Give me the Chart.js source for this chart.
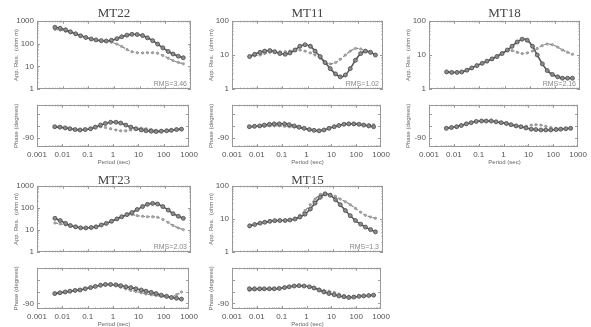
<!DOCTYPE html>
<html>
<head>
<meta charset="utf-8">
<script src="https://cdn.jsdelivr.net/npm/chart.js@4.4.0/dist/chart.umd.min.js"></script>
<style>
body { margin: 0; background: #fff; }
#wrap { position: relative; width: 591px; height: 327px; overflow: hidden; background: #fff; }
canvas { position: absolute; }
.ttl { position: absolute; font-family: "Liberation Serif", "DejaVu Serif", serif; font-size: 13px; color: #444; transform: translateX(-50%); line-height: 1; white-space: nowrap; }
.xl { position: absolute; font-family: "Liberation Sans", sans-serif; font-size: 6px; color: #666; transform: translateX(-50%); line-height: 1; white-space: nowrap; }
</style>
</head>
<body>
<div id="wrap"></div>
<script>
// periods (sec)
var periods = [0.005, 0.008, 0.013, 0.02, 0.032, 0.05, 0.08, 0.13, 0.2, 0.32, 0.5, 0.8, 1.3, 2, 3.2, 5, 8, 13, 20, 32, 50, 80, 130, 200, 320, 500];
var xTicks = [0.001, 0.01, 0.1, 1, 10, 100, 1000];
var phaseTicks = [-90, -60, -30];

var mt22ResA = [520, 470, 400, 330, 270, 220, 185, 160, 145, 135, 130, 140, 165, 200, 235, 255, 250, 225, 180, 135, 95, 65, 45, 35, 28, 24];
var mt22ResB = [420, 390, 350, 300, 255, 215, 180, 158, 145, 135, 128, 115, 95, 75, 55, 44, 40, 39, 40, 40, 38, 30, 23, 18, 15, 13];
var mt22PhA = [-62, -63, -65, -67, -69, -70, -69, -67, -63, -58, -54, -51, -51, -53, -58, -63, -67, -70, -72, -73, -74, -73, -72, -71, -69, -68];
var mt22PhB = [-63, -64, -65, -67, -69, -70, -69, -67, -64, -62, -64, -67, -70, -72, -72, -70, -67, -66, -67, -69, -71, -72, -71, -70, -69, -68];

var mt11ResA = [9, 10.5, 12, 13, 13.5, 12.5, 11, 10.5, 11.5, 14, 18, 20, 18, 13, 9, 6, 4, 2.8, 2.3, 2.6, 4, 7, 11, 13, 12, 10];
var mt11ResB = [9, 9.5, 10, 11, 12, 12.5, 12.5, 12.5, 13, 14, 14, 13, 11.5, 10, 8, 6, 5.5, 6, 7.5, 10, 13, 15.5, 15, 13, 11.5, 10];
var mt11PhA = [-62, -61, -60, -58, -56, -55, -55, -55, -57, -60, -63, -66, -69, -71, -72, -70, -66, -62, -59, -56, -55, -55, -56, -58, -60, -62];
var mt11PhB = [-62, -62, -61, -61, -60, -60, -60, -61, -62, -63, -65, -67, -69, -71, -72, -70, -65, -61, -58, -57, -57, -57, -57, -57, -57, -57];

var mt18ResA = [3.2, 3.1, 3.1, 3.2, 3.6, 4.2, 4.9, 5.7, 6.6, 7.7, 9, 11, 14, 18, 24, 29, 27, 18, 10, 5.5, 3.5, 2.7, 2.3, 2.1, 2.1, 2.1];
var mt18ResB = [3.2, 3.1, 3.1, 3.2, 3.6, 4.2, 4.9, 5.7, 6.6, 7.7, 9.3, 11.5, 13.5, 13.5, 12, 11, 11.5, 13, 15.5, 19, 21, 20, 17, 14, 12, 10.5];
var mt18PhA = [-66, -64, -62, -59, -55, -52, -49, -48, -48, -48, -50, -52, -54, -57, -60, -62, -65, -68, -69, -70, -70, -70, -69, -68, -67, -66];
var mt18PhB = [-66, -64, -62, -59, -55, -52, -49, -48, -48, -48, -50, -52, -54, -57, -60, -62, -61, -58, -57, -58, -61, -64, -66, -67, -67, -66];

var mt23ResA = [34, 27, 20, 16, 14, 12.6, 12.5, 13, 14, 17, 20, 25, 32, 40, 50, 62, 85, 115, 145, 160, 150, 115, 80, 55, 42, 34];
var mt23ResB = [21, 19, 17, 15, 13.5, 12.6, 12.5, 13, 14, 17, 20, 25, 32, 40, 48, 50, 45, 42, 40, 40, 38, 30, 22, 16, 12.5, 10.5];
var mt23PhA = [-65, -63, -61, -59, -57, -56, -53, -50, -47, -44, -42, -42, -43, -45, -48, -50, -53, -56, -59, -62, -65, -69, -72, -75, -77, -79];
var mt23PhB = [-66, -64, -62, -60, -58, -56, -53, -50, -47, -44, -42, -43, -45, -49, -53, -57, -60, -63, -66, -68, -70, -72, -74, -74, -68, -61];

var mt15ResA = [6.2, 6.8, 7.5, 8, 8.5, 8.9, 9, 9, 9.3, 10, 11.5, 14, 20, 30, 45, 57, 52, 38, 27, 18, 12.6, 9, 7, 5.7, 4.8, 4.1];
var mt15ResB = [6.5, 7, 7.6, 8.2, 8.6, 8.9, 9, 9, 9.3, 10.5, 13, 18, 27, 40, 55, 60, 55, 48, 40, 33, 27, 21, 16, 13, 11.5, 10.5];
var mt15PhA = [-53, -53, -53, -53, -53, -53, -52, -50, -48, -46, -45, -46, -48, -51, -56, -61, -65, -68, -71, -73, -75, -74, -72, -71, -70, -69];
var mt15PhB = [-57, -56, -55, -54, -54, -53, -52, -50, -48, -46, -45, -46, -48, -51, -54, -57, -59, -62, -66, -70, -72, -72, -71, -70, -70, -69];

// layout
var colLeft = [37, 232, 429];
var colRight = [191, 383, 580];
var rows = [
    {top: 17, bottom: 93, pTop: 101, pBottom: 147, phMin: -112, phMax: -8, titleTop: 6, xlTop: 159},
    {top: 182, bottom: 256, pTop: 264, pBottom: 309, phMin: -104, phMax: 0, titleTop: 173, xlTop: 321}
];
var yW = 24;
var tickFont = {family: 'Liberation Sans', size: 8};

var framePlugin = {
    id: 'frame',
    beforeDatasetsDraw: function (chart, args, opts) {
        var ctx = chart.ctx, a = chart.chartArea;
        var xs = chart.scales.x, ys = chart.scales.y;
        ctx.save();
        ctx.strokeStyle = '#999';
        ctx.lineWidth = 1;
        ctx.strokeRect(Math.round(a.left) + 0.5, Math.round(a.top) + 0.5, Math.round(a.right - a.left) - 1, Math.round(a.bottom - a.top) - 1);
        ctx.beginPath();
        for (var e = -3; e < 3; e++) {
            for (var m = 1; m < 10; m++) {
                var x = Math.round(xs.getPixelForValue(m * Math.pow(10, e))) + 0.5;
                var len = m === 1 ? 3 : 1.5;
                ctx.moveTo(x, a.top); ctx.lineTo(x, a.top + len);
                ctx.moveTo(x, a.bottom); ctx.lineTo(x, a.bottom - len);
            }
        }
        if (ys.type === 'logarithmic') {
            for (var d = 1; d < ys.max; d *= 10) {
                for (var k = 1; k < 10; k++) {
                    var y = Math.round(ys.getPixelForValue(k * d)) + 0.5;
                    var l2 = k === 1 ? 3 : 1.5;
                    ctx.moveTo(a.left, y); ctx.lineTo(a.left + l2, y);
                    ctx.moveTo(a.right, y); ctx.lineTo(a.right - l2, y);
                }
            }
        } else {
            phaseTicks.forEach(function (v) {
                var y = Math.round(ys.getPixelForValue(v)) + 0.5;
                ctx.moveTo(a.left, y); ctx.lineTo(a.left + 3, y);
                ctx.moveTo(a.right, y); ctx.lineTo(a.right - 3, y);
            });
        }
        ctx.stroke();
        if (opts.rms) {
            ctx.fillStyle = '#888';
            ctx.font = '7px "Liberation Sans"';
            ctx.textAlign = 'right';
            ctx.textBaseline = 'bottom';
            ctx.fillText(opts.rms, a.right - 4, a.bottom - 2);
        }
        ctx.restore();
    }
};
Chart.register(framePlugin);

function series(vals, dark) {
    var pts = periods.map(function (p, i) { return {x: p, y: vals[i]}; });
    if (dark) {
        return {data: pts, borderColor: '#5a5a5a', borderWidth: 1.6, pointRadius: 2,
            pointBackgroundColor: '#8c8c8c', pointBorderColor: '#4a4a4a', pointBorderWidth: 0.8, tension: 0.3};
    }
    return {data: pts, borderColor: '#8a8a8a', borderWidth: 1.2, borderDash: [3, 2], pointRadius: 1.2,
        pointBackgroundColor: '#aaa', pointBorderColor: '#888', pointBorderWidth: 0.6, tension: 0.3};
}

function makeCanvas(left, top, w, h) {
    var c = document.createElement('canvas');
    c.width = w; c.height = h;
    c.style.left = left + 'px'; c.style.top = top + 'px';
    document.getElementById('wrap').appendChild(c);
    return c;
}

function addText(cls, text, left, top) {
    var d = document.createElement('div');
    d.className = cls;
    d.textContent = text;
    d.style.left = left + 'px'; d.style.top = top + 'px';
    document.getElementById('wrap').appendChild(d);
}

function addPanel(name, col, row, resMax, resA, resB, phA, phB, rms) {
    var L = colLeft[col], R = colRight[col], g = rows[row];

    var c1 = makeCanvas(L - yW, g.top - 4, yW + (R - L) + 10, (g.bottom - g.top) + 8);
    new Chart(c1, {
        type: 'line',
        data: {datasets: [series(resA, true), series(resB, false)]},
        options: {
            responsive: false, animation: false, clip: false,
            layout: {padding: {top: 4, bottom: 4, right: 10, left: 0}},
            plugins: {legend: {display: false}, tooltip: {enabled: false}, frame: {rms: rms}},
            scales: {
                x: {type: 'logarithmic', min: 0.001, max: 1000, display: false},
                y: {
                    type: 'logarithmic', min: 1, max: resMax,
                    grid: {display: false, drawTicks: false}, border: {display: false},
                    afterBuildTicks: function (s) {
                        s.ticks = [1, 10, 100, 1000].filter(function (v) { return v <= resMax; }).map(function (v) { return {value: v}; });
                    },
                    afterFit: function (s) { s.width = yW; },
                    ticks: {font: tickFont, color: '#555', padding: 3, callback: function (v) { return String(v); }},
                    title: {display: true, text: 'App. Res.  (ohm m)', color: '#666', padding: 0, font: {family: 'Liberation Sans', size: 6}}
                }
            }
        }
    });

    var xH = 14;
    var c2 = makeCanvas(L - yW, g.pTop - 4, yW + (R - L) + 10, 4 + (g.pBottom - g.pTop) + xH);
    new Chart(c2, {
        type: 'line',
        data: {datasets: [series(phA, true), series(phB, false)]},
        options: {
            responsive: false, animation: false, clip: false,
            layout: {padding: {top: 4, bottom: 0, right: 10, left: 0}},
            plugins: {legend: {display: false}, tooltip: {enabled: false}, frame: {}},
            scales: {
                x: {
                    type: 'logarithmic', min: 0.001, max: 1000,
                    grid: {display: false, drawTicks: false}, border: {display: false},
                    afterBuildTicks: function (s) { s.ticks = xTicks.map(function (v) { return {value: v}; }); },
                    afterFit: function (s) { s.height = xH; },
                    ticks: {font: tickFont, color: '#555', padding: 3, maxRotation: 0, autoSkip: false,
                        callback: function (v) { return String(v); }}
                },
                y: {
                    min: g.phMin, max: g.phMax,
                    grid: {display: false, drawTicks: false}, border: {display: false},
                    afterBuildTicks: function (s) { s.ticks = phaseTicks.map(function (v) { return {value: v}; }); },
                    afterFit: function (s) { s.width = yW; },
                    ticks: {font: tickFont, color: '#555', padding: 3, callback: function (v) { return v === -90 ? '-90' : ''; }},
                    title: {display: true, text: 'Phase (degrees)', color: '#666', padding: 0, font: {family: 'Liberation Sans', size: 6}}
                }
            }
        }
    });

    addText('ttl', name, (L + R) / 2, g.titleTop);
    addText('xl', 'Period (sec)', (L + R) / 2, g.xlTop);
}

addPanel('MT22', 0, 0, 1000, mt22ResA, mt22ResB, mt22PhA, mt22PhB, 'RMS=3.46');
addPanel('MT11', 1, 0, 100, mt11ResA, mt11ResB, mt11PhA, mt11PhB, 'RMS=1.02');
addPanel('MT18', 2, 0, 100, mt18ResA, mt18ResB, mt18PhA, mt18PhB, 'RMS=2.16');
addPanel('MT23', 0, 1, 1000, mt23ResA, mt23ResB, mt23PhA, mt23PhB, 'RMS=2.03');
addPanel('MT15', 1, 1, 100, mt15ResA, mt15ResB, mt15PhA, mt15PhB, 'RMS=1.3');
</script>
</body>
</html>
